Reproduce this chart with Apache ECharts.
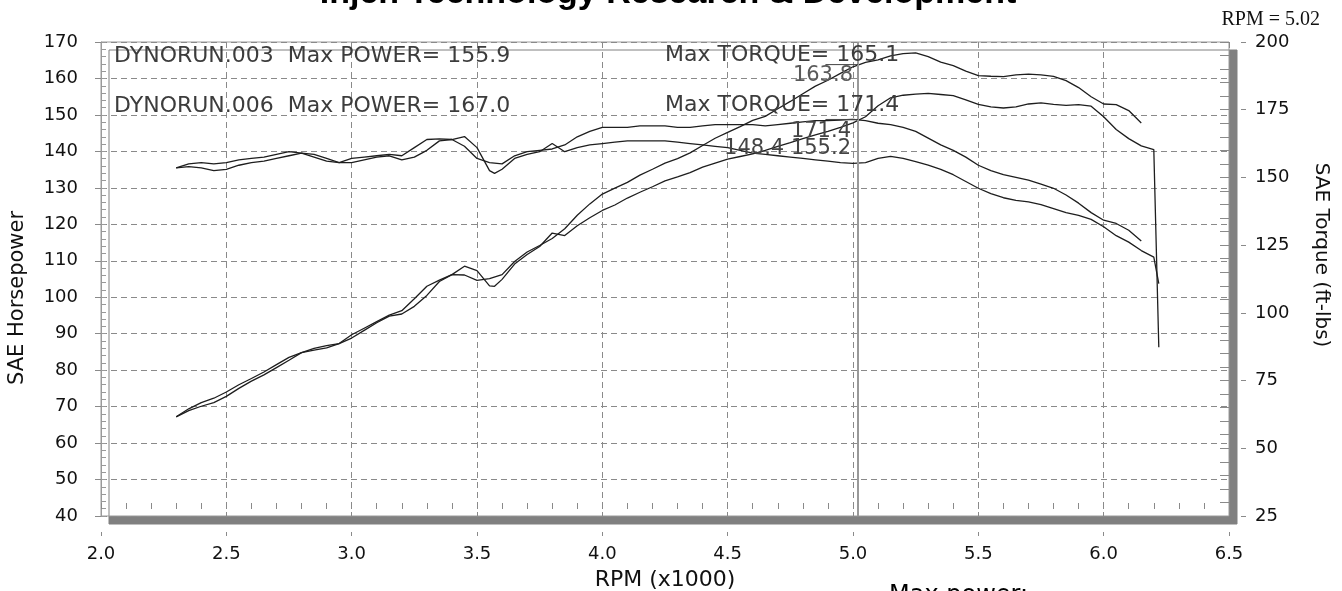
<!DOCTYPE html>
<html><head><meta charset="utf-8">
<script src="https://cdn.jsdelivr.net/npm/echarts@6/dist/echarts.min.js"></script>
<style>html,body{margin:0;padding:0;background:#fff;}#c{width:1342px;height:591px;}</style>
</head><body><div id="c"></div>
<script>
// ---- data ----
const rpm006 = [2.30,2.35,2.40,2.45,2.50,2.55,2.60,2.65,2.70,2.75,2.80,2.85,2.90,2.95,3.00,3.05,3.10,3.15,3.20,3.25,3.30,3.35,3.40,3.45,3.50,3.55,3.60,3.65,3.70,3.75,3.80,3.85,3.90,3.95,4.00,4.05,4.10,4.15,4.20,4.25,4.30,4.35,4.40,4.45,4.50,4.55,4.60,4.65,4.70,4.75,4.80,4.85,4.90,4.95,5.00,5.05,5.10,5.15,5.20,5.25,5.30,5.35,5.40,5.45,5.50,5.55,5.60,5.65,5.70,5.75,5.80,5.85,5.90,5.95,6.00,6.05,6.10,6.15];
const hp006 = [67.2,69.4,71.1,72.3,74.0,76.0,77.7,79.5,81.5,83.5,84.8,85.5,86.1,87.3,89.7,91.5,93.3,95.1,96.3,99.6,103.0,104.7,106.2,106.1,104.6,105.1,106.2,109.8,112.4,114.2,116.1,118.8,122.5,125.6,128.3,129.9,131.5,133.5,135.1,136.8,138.0,139.6,141.6,143.6,145.2,146.8,148.5,149.6,151.7,153.7,155.8,157.9,159.5,161.4,163.2,164.4,165.1,166.2,166.8,167.0,166.0,164.5,163.5,162.0,160.8,160.6,160.5,161.0,161.2,161.0,160.6,159.4,157.5,155.0,153.0,152.8,151.2,147.8];
const tq006 = [153.5,155.0,155.5,155.0,155.5,156.5,157.0,157.5,158.5,159.5,159.0,157.5,156.0,155.5,157.0,157.5,158.0,158.5,158.0,161.0,164.0,164.2,164.0,161.5,157.0,155.5,155.0,158.0,159.5,160.0,160.5,162.0,165.0,167.0,168.5,168.5,168.5,169.0,169.0,169.0,168.5,168.5,169.0,169.5,169.5,169.5,169.5,169.0,169.5,170.0,170.5,171.0,171.0,171.2,171.4,171.0,170.0,169.5,168.5,167.0,164.5,162.0,160.0,157.5,154.5,152.5,151.0,150.0,149.0,147.5,146.0,143.5,140.5,137.0,134.2,133.0,130.5,126.5];

const rpm003 = [2.30,2.35,2.40,2.45,2.50,2.55,2.60,2.65,2.70,2.75,2.80,2.85,2.90,2.95,3.00,3.05,3.10,3.15,3.20,3.25,3.30,3.35,3.40,3.45,3.50,3.55,3.57,3.60,3.65,3.70,3.75,3.80,3.85,3.90,3.95,4.00,4.05,4.10,4.15,4.20,4.25,4.30,4.35,4.40,4.45,4.50,4.55,4.60,4.65,4.70,4.75,4.80,4.85,4.90,4.95,5.00,5.05,5.10,5.15,5.20,5.25,5.30,5.35,5.40,5.45,5.50,5.55,5.60,5.65,5.70,5.75,5.80,5.85,5.90,5.95,6.00,6.05,6.10,6.15,6.20,6.22];
const hp003 = [67.2,68.9,70.1,71.1,72.8,75.0,77.0,78.7,80.7,82.7,84.8,86.0,86.7,87.3,88.8,90.9,93.0,94.8,95.4,97.5,100.5,104.3,106.2,108.5,107.3,103.1,103.0,104.9,109.1,111.7,113.9,117.6,116.9,119.6,121.8,123.8,125.3,127.2,128.8,130.3,131.9,133.0,134.2,135.7,136.8,137.9,138.6,139.3,140.3,141.4,142.4,143.5,144.5,145.5,146.6,147.8,149.5,152.5,154.7,155.4,155.7,155.9,155.6,155.3,154.1,152.9,152.2,151.9,152.2,153.0,153.3,152.9,152.6,152.8,152.4,149.5,146.0,143.5,141.5,140.5,86.3];
const tq003 = [153.5,154.0,153.5,152.5,153.0,154.5,155.5,156.0,157.0,158.0,159.0,158.5,157.0,155.5,155.5,156.5,157.5,158.0,156.5,157.5,160.0,163.5,164.0,165.1,161.0,152.5,151.5,153.0,157.0,158.5,159.5,162.5,159.5,161.0,162.0,162.5,163.0,163.5,163.5,163.5,163.5,163.0,162.5,162.0,161.5,161.0,160.0,159.0,158.5,158.0,157.5,157.0,156.5,156.0,155.5,155.2,155.5,157.0,157.8,157.0,155.8,154.5,153.0,151.0,148.5,146.0,144.0,142.5,141.5,141.0,140.0,138.5,137.0,136.0,134.5,131.8,128.5,126.1,123.0,120.6,110.8];

const cursorRpm = 5.02;
const runLabels = ['DYNORUN.003  Max POWER= 155.9', 'DYNORUN.006  Max POWER= 167.0'];
const torqueLabels = ['Max TORQUE= 165.1', 'Max TORQUE= 171.4'];
const readouts = ['163.8', '171.4', '148.4 155.2'];
const titleText = 'Injen Technology Research & Development';

function pairs(xs, ys) { return xs.map((x, i) => [x, ys[i]]); }

const chart = echarts.init(document.getElementById('c'), null, {renderer: 'canvas'});
const FONT = '"DejaVu Sans", Verdana, sans-serif';
const lineCol = '#1e1e1e';
const gridCol = '#8a8a8a';
const tickCol = '#8a8a8a';

chart.setOption({
  animation: false,
  backgroundColor: '#fff',
  textStyle: {fontFamily: FONT},
  grid: {
    left: 101, right: 113, top: 42, bottom: 75,
    show: true, backgroundColor: '#fff',
    borderColor: '#9a9a9a', borderWidth: 1,
    shadowColor: '#808080', shadowBlur: 0, shadowOffsetX: 8, shadowOffsetY: 8
  },
  xAxis: [
    {
      type: 'value', min: 2, max: 6.5, interval: 0.5, offset: 16,
      axisLine: {show: false},
      axisTick: {show: true, length: 4, lineStyle: {color: tickCol}},
      axisLabel: {fontSize: 18, color: '#111', margin: 13, formatter: v => v.toFixed(1), fontFamily: FONT},
      splitLine: {show: true, lineStyle: {color: gridCol, type: [6, 4], width: 1}}
    },
    {
      type: 'value', min: 2, max: 6.5, interval: 0.1, offset: -7, position: 'bottom',
      axisLine: {show: false}, axisLabel: {show: false}, splitLine: {show: false},
      axisTick: {show: true, inside: true, length: 6, lineStyle: {color: tickCol}}
    }
  ],
  yAxis: [
    {
      type: 'value', min: 40, max: 170, interval: 10, position: 'left',
      axisLine: {show: true, lineStyle: {color: '#9a9a9a'}},
      axisTick: {show: true, length: 6, lineStyle: {color: tickCol}},
      axisLabel: {fontSize: 18, color: '#111', margin: 23, fontFamily: FONT},
      splitLine: {show: true, lineStyle: {color: gridCol, type: [6, 4], width: 1}}
    },
    {
      type: 'value', min: 25, max: 200, interval: 25, position: 'right', offset: 12,
      axisLine: {show: false},
      axisTick: {show: true, length: 5, lineStyle: {color: tickCol}},
      axisLabel: {fontSize: 18, color: '#111', margin: 14, fontFamily: FONT},
      splitLine: {show: false}
    },
    {
      type: 'value', min: 25, max: 200, interval: 5, position: 'right', offset: 0,
      axisLine: {show: false}, axisLabel: {show: false}, splitLine: {show: false},
      axisTick: {show: true, inside: true, length: 9, lineStyle: {color: tickCol}}
    },
    {
      type: 'value', min: 40, max: 170, interval: 2, position: 'left', offset: 0,
      axisLine: {show: false}, axisLabel: {show: false}, splitLine: {show: false},
      axisTick: {show: true, inside: true, length: 5, lineStyle: {color: '#999'}}
    }
  ],
  series: [
    {type: 'line', name: 'HP 003', data: pairs(rpm003, hp003), xAxisIndex: 0, yAxisIndex: 0, showSymbol: false, lineStyle: {color: lineCol, width: 1.3}, z: 3,
      markLine: {silent: true, symbol: 'none', label: {show: false}, lineStyle: {color: '#999', width: 2, type: 'solid'}, data: [{xAxis: cursorRpm}]}},
    {type: 'line', name: 'HP 006', data: pairs(rpm006, hp006), xAxisIndex: 0, yAxisIndex: 0, showSymbol: false, lineStyle: {color: lineCol, width: 1.3}, z: 3},
    {type: 'line', name: 'TQ 003', data: pairs(rpm003, tq003), xAxisIndex: 0, yAxisIndex: 1, showSymbol: false, lineStyle: {color: lineCol, width: 1.3}, z: 3},
    {type: 'line', name: 'TQ 006', data: pairs(rpm006, tq006), xAxisIndex: 0, yAxisIndex: 1, showSymbol: false, lineStyle: {color: lineCol, width: 1.3}, z: 3}
  ]
});

// text overlays
const T = (t, x, y, extra) => ({type: 'text', x: x, y: y, z: 50, silent: true,
  style: Object.assign({text: t, fontSize: 22, fontFamily: FONT, fill: '#3c3c3c', verticalAlign: 'middle'}, extra || {})});
const hpAt = chart.convertToPixel({xAxisIndex: 0, yAxisIndex: 0}, [cursorRpm, 163.8]);
const tqAt = chart.convertToPixel({xAxisIndex: 0, yAxisIndex: 1}, [cursorRpm, 171.4]);
const leadStart = chart.convertToPixel({xAxisIndex: 0, yAxisIndex: 0}, [4.89, 163.8]);
const left = T('SAE Horsepower', 18, 298, {fontSize: 21, fill: '#111', align: 'center'}); left.rotation = Math.PI / 2;
const right = T('SAE Torque (ft-lbs)', 1321, 255, {fontSize: 20, fill: '#111', align: 'center'}); right.rotation = -Math.PI / 2;
chart.setOption({
  graphic: [
    T(titleText, 668, 11, {fontSize: 34, fontWeight: 'bold', fontFamily: '"Liberation Sans", Arial, sans-serif', fill: '#000', align: 'center', verticalAlign: 'bottom'}),
    T('RPM = 5.02', 1320, 20, {fontSize: 20, fontFamily: '"Liberation Serif", serif', fill: '#111', align: 'right'}),
    T('RPM (x1000)', 665, 580, {fontSize: 22, fill: '#111', align: 'center'}),
    left, right,
    T(runLabels[0], 114, 56),
    T(runLabels[1], 114, 106),
    T(torqueLabels[0], 665, 55),
    T(torqueLabels[1], 665, 105),
    T(readouts[0], 853, 76, {fontSize: 21, align: 'right', fill: '#5a5a5a'}),
    T(readouts[1], 851, 132, {fontSize: 21, align: 'right', fill: '#444'}),
    T(readouts[2], 851, 149, {fontSize: 21, align: 'right', fill: '#444'}),
    {type: 'line', z: 50, silent: true, shape: {x1: leadStart[0], y1: hpAt[1], x2: hpAt[0], y2: hpAt[1]}, style: {stroke: '#444', lineWidth: 1}},
    {type: 'line', z: 50, silent: true, shape: {x1: leadStart[0], y1: tqAt[1], x2: tqAt[0], y2: tqAt[1]}, style: {stroke: '#444', lineWidth: 1}},
    T('Max power:', 889, 584, {fontSize: 24, fill: '#000', verticalAlign: 'top'})
  ]
});
</script>
</body></html>
